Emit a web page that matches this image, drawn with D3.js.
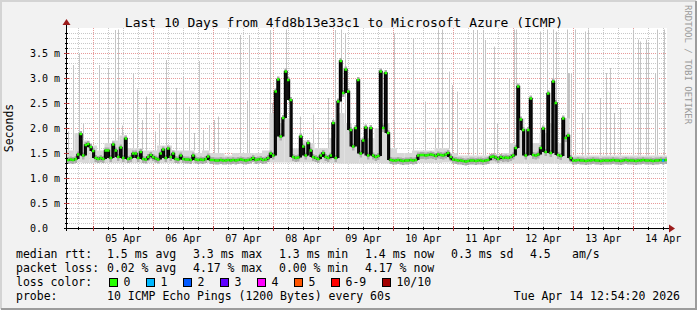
<!DOCTYPE html>
<html>
<head>
<meta charset="utf-8">
<script src="https://cdn.jsdelivr.net/npm/d3@7"></script>
<style>
  body { margin: 0; background: #f2f2f2; }
  text { font-family: "DejaVu Sans Mono", monospace; fill: #000; }
</style>
</head>
<body>
<svg id="chart" width="697" height="310"></svg>
<script>
// ---- data ----
const startTime = new Date(2026, 3, 4, 13, 30);
const endTime = new Date(2026, 3, 14, 13, 30);

// hourly median rtt in ms, starting at startTime
const median = [
  1.36,1.37,1.36,1.38,1.47,1.88,1.45,1.66,1.68,1.62,1.54,1.40,1.38,1.40,1.38,1.55,1.55,1.40,1.67,1.55,1.42,1.61,1.40,1.79,
  1.38,1.40,1.49,1.49,1.40,1.52,1.38,1.37,1.42,1.46,1.42,1.39,1.37,1.49,1.57,1.40,1.59,1.42,1.49,1.38,1.37,1.45,1.38,1.37,
  1.37,1.36,1.45,1.37,1.36,1.37,1.36,1.38,1.43,1.36,1.36,1.35,1.35,1.36,1.35,1.35,1.36,1.35,1.36,1.35,1.36,1.37,1.36,1.35,
  1.36,1.37,1.40,1.36,1.37,1.38,1.36,1.37,1.40,1.49,1.45,2.73,2.97,1.83,2.20,3.13,2.96,2.56,1.42,1.40,1.41,1.83,1.63,1.45,
  1.70,1.55,1.42,1.40,1.38,1.45,1.50,1.42,1.40,1.45,2.10,1.40,2.53,3.34,2.70,3.17,2.73,1.96,1.63,2.00,2.96,1.49,1.75,2.01,
  1.45,2.00,1.45,1.42,1.44,3.13,2.00,3.10,1.90,1.36,1.35,1.35,1.36,1.35,1.34,1.35,1.35,1.36,1.35,1.36,1.45,1.46,1.46,1.45,
  1.46,1.47,1.46,1.44,1.47,1.46,1.45,1.47,1.50,1.42,1.37,1.36,1.35,1.35,1.34,1.33,1.34,1.35,1.35,1.34,1.35,1.35,1.34,1.35,
  1.36,1.42,1.43,1.41,1.38,1.42,1.40,1.41,1.40,1.42,1.45,1.60,2.83,2.17,1.96,1.45,1.96,2.59,1.46,1.45,1.47,1.60,1.99,1.52,
  2.69,1.50,2.93,2.50,1.46,1.44,2.19,1.80,1.85,1.40,1.35,1.35,1.36,1.35,1.35,1.34,1.35,1.35,1.36,1.35,1.35,1.34,1.35,1.35,
  1.35,1.35,1.36,1.35,1.35,1.34,1.35,1.36,1.35,1.35,1.35,1.34,1.35,1.35,1.36,1.35,1.35,1.35,1.34,1.35,1.35,1.36,1.35,1.36
];

// upper edge of the light smoke, every 3 hours
const smokeHi = [
  1.55,1.90,1.75,1.65,1.55,1.70,1.75,1.85,1.60,1.60,
  1.55,1.55,1.65,1.65,1.55,1.55,1.55,1.50,1.55,1.50,
  1.50,1.45,1.50,1.50,1.50,1.50,1.55,2.30,2.10,2.20,
  1.60,1.75,1.70,1.60,1.60,1.80,2.30,2.10,2.00,1.80,
  1.80,2.00,2.10,1.60,1.50,1.50,1.55,1.55,1.55,1.60,
  1.60,1.50,1.45,1.45,1.45,1.45,1.45,1.45,1.50,1.70,
  2.20,2.00,1.70,1.90,2.10,1.70,2.20,1.45,1.45,1.45,
  1.45,1.45,1.45,1.45,1.45,1.45,1.45,1.45,1.45,1.45
];

// lower edge of the smoke, every 6 hours
const smokeLo = [
  1.31,1.30,1.30,1.30,1.30,1.30,1.30,1.30,1.30,1.30,
  1.30,1.30,1.31,1.31,1.31,1.31,1.31,1.30,1.29,1.29,
  1.30,1.29,1.29,1.30,1.30,1.31,1.31,1.32,1.29,1.29,
  1.29,1.29,1.29,1.29,1.29,1.29,1.29,1.29,1.29,1.29
];

// single slow pings: [hours after start, max rtt ms]
const spikes = [
  [0.3,1.93],[2.4,3.26],[4.6,3.5],[6.4,2.1],[12.8,3.26],[16.4,3.2],[19.2,3.96],[20.4,3.97],[21.9,2.05],
  [26.4,3.1],[28.0,2.77],[30.0,2.16],[31.6,2.63],[35.3,1.93],[36.9,2.3],[39.6,3.36],[43.6,2.8],[46.3,3.03],
  [48.9,2.43],[50.9,1.9],[52.9,3.34],[54.4,1.96],[56.8,2.06],[58.8,2.16],[60.4,2.23],[69.0,3.86],[72.0,2.55],
  [72.7,3.86],[81.1,3.96],[82.0,2.5],[87.7,3.97],[93.1,2.23],[98.4,2.27],[100.4,1.96],[104.4,2.6],[106.4,2.2],
  [107.3,3.96],[109.5,3.97],[111.3,3.9],[115.7,2.03],[130.8,3.89],[138.5,3.8],[143.2,2.53],[147.2,1.98],
  [148.5,3.97],[149.9,3.97],[152.8,3.13],[153.9,2.86],[156.1,2.73],[160.5,1.98],[162.5,3.96],[163.9,3.96],
  [166.5,3.96],[167.2,3.76],[170.8,3.63],[171.9,2.1],[176.9,3.0],[178.8,3.97],[179.6,3.97],[189.2,3.93],
  [191.9,3.97],[194.5,3.97],[195.5,3.93],[199.9,3.97],[200.4,3.1],[200.9,3.1],[201.4,3.1],[203.2,3.97],
  [205.9,2.3],[207.2,3.93],[208.5,3.97],[213.2,2.6],[215.6,3.1],[217.2,3.2],[218.8,2.3],[221.2,2.4],
  [226.5,3.97],[228.5,3.77],[229.2,3.73],[231.6,3.77],[232.5,3.7],[235.2,3.1],[235.9,3.97],[238.8,3.97],[239.9,3.93]
];

// samples with packet loss: [hour index, loss bucket]
const lossSamples = [[238, 1]];

const yTicks = [0, 0.5, 1.0, 1.5, 2.0, 2.5, 3.0, 3.5];
const lossColors = ["#26ff00", "#00b8ff", "#0059ff", "#5e00ff", "#ff00fe", "#ff5500", "#ff0000", "#a10000"];
const lossLabels = ["0", "1", "2", "3", "4", "5", "6-9", "10/10"];
const rttStats = ["1.5 ms avg", "3.3 ms max", "1.3 ms min", "1.4 ms now", "0.3 ms sd"];
const lossStats = ["0.02 % avg", "4.17 % max", "0.00 % min", "4.17 % now"];
const amPerSec = "4.5";

const titleText = "Last 10 Days from 4fd8b13e33c1 to Microsoft Azure (ICMP)";
const probeText = "10 ICMP Echo Pings (1200 Bytes) every 60s";
const stampText = "Tue Apr 14 12:54:20 2026";

// ---- layout ----
const W = 697, H = 310;
const plotL = 67, plotR = 667, plotT = 28, plotB = 228;

const svg = d3.select("#chart");

// background and frame
svg.append("rect").attr("width", W).attr("height", H).attr("fill", "#f2f2f2");
svg.append("path").attr("d", `M1,${H - 1}V1H${W - 1}`).attr("stroke", "#d4d4d4").attr("stroke-width", 2).attr("fill", "none");
svg.append("path").attr("d", `M1,${H - 1}H${W - 1}V1`).attr("stroke", "#9c9c9c").attr("stroke-width", 2).attr("fill", "none");

svg.append("rect").attr("x", plotL).attr("y", plotT).attr("width", plotR - plotL).attr("height", plotB - plotT).attr("fill", "#fff");

const x = d3.scaleTime().domain([startTime, endTime]).range([plotL, plotR]);
const y = d3.scaleLinear().domain([0, 4]).range([plotB, plotT]);
const hourTime = h => new Date(startTime.getTime() + h * 3600e3);

svg.append("clipPath").attr("id", "plotClip")
  .append("rect").attr("x", plotL).attr("y", plotT).attr("width", plotR - plotL).attr("height", plotB - plotT);

// grid
const grid = svg.append("g");
const minorY = d3.range(0, 40).map(d => d / 10).filter(v => Math.round(v * 10) % 5 !== 0);
grid.selectAll(".hminor").data(minorY).enter().append("line")
  .attr("x1", plotL).attr("x2", plotR)
  .attr("y1", d => Math.round(y(d)) + 0.5).attr("y2", d => Math.round(y(d)) + 0.5)
  .attr("stroke", "#c8c8c8").attr("stroke-dasharray", "1,1");
const sixHours = d3.timeHour.every(6).range(startTime, endTime).filter(d => d.getHours() !== 0);
grid.selectAll(".vminor").data(sixHours).enter().append("line")
  .attr("x1", d => Math.round(x(d)) + 0.5).attr("x2", d => Math.round(x(d)) + 0.5)
  .attr("y1", plotT).attr("y2", plotB)
  .attr("stroke", "#c8c8c8").attr("stroke-dasharray", "1,1");
grid.selectAll(".hmajor").data(yTicks.slice(1)).enter().append("line")
  .attr("x1", plotL).attr("x2", plotR)
  .attr("y1", d => Math.round(y(d)) + 0.5).attr("y2", d => Math.round(y(d)) + 0.5)
  .attr("stroke", "#e89a9a").attr("stroke-dasharray", "1,1");
const days = d3.timeDay.range(startTime, endTime);
grid.selectAll(".vmajor").data(days).enter().append("line")
  .attr("x1", d => Math.round(x(d)) + 0.5).attr("x2", d => Math.round(x(d)) + 0.5)
  .attr("y1", plotT).attr("y2", plotB)
  .attr("stroke", "#e89a9a").attr("stroke-dasharray", "1,1");

// smoke
const plot = svg.append("g").attr("clip-path", "url(#plotClip)");

plot.selectAll(".smoke").data(smokeHi).enter().append("rect")
  .attr("x", (d, k) => x(hourTime(k * 3)))
  .attr("width", (d, k) => x(hourTime(k * 3 + 3)) - x(hourTime(k * 3)))
  .attr("y", d => y(d))
  .attr("height", (d, k) => y(smokeLo[Math.floor(k / 2)]) - y(d))
  .attr("fill", "#d8d8d8");

plot.selectAll(".spike").data(spikes).enter().append("line")
  .attr("x1", d => Math.round(x(hourTime(d[0]))) + 0.5)
  .attr("x2", d => Math.round(x(hourTime(d[0]))) + 0.5)
  .attr("y1", d => y(smokeHi[Math.min(79, Math.floor(d[0] / 3))]))
  .attr("y2", d => y(d[1]))
  .attr("stroke", "#c4c4c4");

// darker core of the smoke around the median
plot.selectAll(".core").data(median).enter().append("rect")
  .attr("x", (d, i) => x(hourTime(i)))
  .attr("width", (d, i) => x(hourTime(i + 1)) - x(hourTime(i)))
  .attr("y", d => y(d) - 3)
  .attr("height", 7)
  .attr("fill", "#ababab");

// median peaks: dense minute samples fill the jump to the neighbouring level
const peakBase = i => Math.min(median[Math.max(0, i - 1)], median[Math.min(median.length - 1, i + 1)]);
plot.selectAll(".peak").data(median).enter().append("rect")
  .attr("x", (d, i) => x(hourTime(i)))
  .attr("width", (d, i) => x(hourTime(i + 1)) - x(hourTime(i)))
  .attr("y", d => y(d))
  .attr("height", (d, i) => Math.max(0, y(peakBase(i)) - y(d)))
  .attr("fill", "#111");

// median line
const medPts = median.map((v, i) => [hourTime(i), v]).concat([[endTime, median[median.length - 1]]]);
plot.append("path")
  .datum(medPts)
  .attr("d", d3.line().x(d => x(d[0])).y(d => y(d[1])).curve(d3.curveStepAfter))
  .attr("fill", "none").attr("stroke", "#000").attr("stroke-width", 1.4);

// loss-coloured median marks
const lossOf = i => { const s = lossSamples.find(l => l[0] === i); return s ? s[1] : 0; };
plot.selectAll(".mark").data(median).enter().append("line")
  .attr("x1", (d, i) => x(hourTime(i)))
  .attr("x2", (d, i) => x(hourTime(i + 1)))
  .attr("y1", d => y(d)).attr("y2", d => y(d))
  .attr("stroke", (d, i) => lossColors[lossOf(i)])
  .attr("stroke-width", 2.5);

// axes
const axis = svg.append("g");
axis.append("line").attr("x1", plotL - 3).attr("x2", plotR + 4).attr("y1", plotB + 0.5).attr("y2", plotB + 0.5).attr("stroke", "#000");
axis.append("line").attr("x1", plotL - 0.5).attr("x2", plotL - 0.5).attr("y1", plotB + 3).attr("y2", plotT - 4).attr("stroke", "#000");
axis.append("path").attr("d", `M${plotR + 2},${plotB - 3.5}L${plotR + 8},${plotB + 0.5}L${plotR + 2},${plotB + 4.5}Z`).attr("fill", "#9c1c1c");
axis.append("path").attr("d", `M${plotL - 4.5},${plotT - 3}L${plotL - 0.5},${plotT - 9}L${plotL + 3.5},${plotT - 3}Z`).attr("fill", "#9c1c1c");

axis.selectAll(".xtMinor").data(sixHours).enter().append("line")
  .attr("x1", d => Math.round(x(d)) + 0.5).attr("x2", d => Math.round(x(d)) + 0.5)
  .attr("y1", plotB - 1).attr("y2", plotB + 2).attr("stroke", "#000");
axis.selectAll(".xtMajor").data(days).enter().append("line")
  .attr("x1", d => Math.round(x(d)) + 0.5).attr("x2", d => Math.round(x(d)) + 0.5)
  .attr("y1", plotB - 2).attr("y2", plotB + 3).attr("stroke", "#a33");
axis.selectAll(".ytMinor").data(minorY).enter().append("line")
  .attr("x1", plotL - 2).attr("x2", plotL + 1)
  .attr("y1", d => Math.round(y(d)) + 0.5).attr("y2", d => Math.round(y(d)) + 0.5).attr("stroke", "#000");
axis.selectAll(".ytMajor").data(yTicks.slice(1)).enter().append("line")
  .attr("x1", plotL - 3).attr("x2", plotL + 2)
  .attr("y1", d => Math.round(y(d)) + 0.5).attr("y2", d => Math.round(y(d)) + 0.5).attr("stroke", "#a33");

// axis labels, centred at noon of each day
const fmtDay = d3.timeFormat("%d %b");
svg.selectAll(".xlab").data(days)
  .enter().append("text")
  .attr("x", d => x(d3.timeHour.offset(d, 12)))
  .attr("y", 241.5)
  .attr("text-anchor", "middle")
  .style("font-size", "10px")
  .text(d => fmtDay(d));
svg.selectAll(".ylab").data(yTicks).enter().append("text")
  .attr("x", 30)
  .attr("y", d => y(d) + 3.5)
  .style("font-size", "10px")
  .style("white-space", "pre")
  .text(d => d === 0 ? "0.0" : d3.format(".1f")(d) + " m");

svg.append("text")
  .attr("transform", `translate(13,${(plotT + plotB) / 2}) rotate(-90)`)
  .attr("text-anchor", "middle")
  .style("font-size", "11.5px")
  .text("Seconds");

svg.append("text")
  .attr("x", 344).attr("y", 27)
  .attr("text-anchor", "middle")
  .style("font-size", "13px")
  .text(titleText);

svg.append("text")
  .attr("transform", "translate(685,5) rotate(90)")
  .style("font-size", "9px")
  .style("fill", "#9a9a9a")
  .text("RRDTOOL / TOBI OETIKER");

// legend
const legend = svg.append("g").style("font-size", "11.5px").style("white-space", "pre");
const rowY = [258, 272, 286, 300];
const colX = [107, 193, 279, 365, 451];

legend.append("text").attr("x", 16).attr("y", rowY[0]).text("median rtt:");
legend.selectAll(".rtt").data(rttStats).enter().append("text")
  .attr("x", (d, i) => colX[i]).attr("y", rowY[0]).text(d => d);
legend.append("text").attr("x", 530).attr("y", rowY[0]).text(amPerSec);
legend.append("text").attr("x", 572).attr("y", rowY[0]).text("am/s");

legend.append("text").attr("x", 16).attr("y", rowY[1]).text("packet loss:");
legend.selectAll(".loss").data(lossStats).enter().append("text")
  .attr("x", (d, i) => colX[i]).attr("y", rowY[1]).text(d => d);

// loss colour entries: each one is a box, its label, then a gap
legend.append("text").attr("x", 16).attr("y", rowY[2]).text("loss color:");
const boxX = [];
lossLabels.reduce((pos, lab) => { boxX.push(pos); return pos + 30 + lab.length * 7; }, 109.5);
legend.selectAll(".box").data(lossColors).enter().append("rect")
  .attr("x", (d, i) => boxX[i]).attr("y", 278.5)
  .attr("width", 8).attr("height", 8)
  .attr("fill", d => d).attr("stroke", "#000");
legend.selectAll(".boxlab").data(lossLabels).enter().append("text")
  .attr("x", (d, i) => boxX[i] + 14).attr("y", rowY[2]).text(d => d);

legend.append("text").attr("x", 16).attr("y", rowY[3]).text("probe:");
legend.append("text").attr("x", 107).attr("y", rowY[3]).text(probeText);
legend.append("text").attr("x", 680).attr("y", rowY[3]).attr("text-anchor", "end").text(stampText);
</script>
</body>
</html>
